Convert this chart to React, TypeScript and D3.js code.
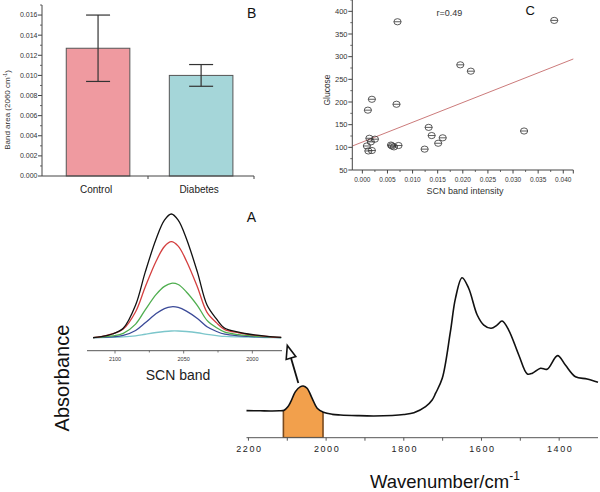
import React from 'react';
import * as d3 from 'd3';

// ---------- Panel B: bar chart ----------
const barCategories = ['Control', 'Diabetes'];
const barMeans = [0.0127, 0.01];
const barErrors = [0.0033, 0.00108];
const barColors = ['#ef9aa0', '#a5d6d9'];
const barYTicks = [0, 0.002, 0.004, 0.006, 0.008, 0.01, 0.012, 0.014, 0.016];
const barYMinor = [0.001, 0.003, 0.005, 0.007, 0.009, 0.011, 0.013, 0.015, 0.017];

// ---------- Panel C: scatter ----------
const scatterX = [0.007, 0.0382, 0.0195, 0.0216, 0.0019, 0.0011, 0.0068, 0.0132, 0.0138, 0.016, 0.0151, 0.0124, 0.0322, 0.0014, 0.0025, 0.0017, 0.0009, 0.0012, 0.0019, 0.0057, 0.0063, 0.0072, 0.0059];
const scatterY = [377, 380, 282, 268, 206, 182, 195, 144, 126, 121, 109, 96, 136, 120, 118, 112, 103, 92, 93, 105, 101, 104, 103];
const fitIntercept = 111.6;
const fitSlope = 4364;
const fitLabel = 'r=0.49';
const scatterXTicks = [0, 0.005, 0.01, 0.015, 0.02, 0.025, 0.03, 0.035, 0.04];
const scatterXMinor = [0.0025, 0.0075, 0.0125, 0.0175, 0.0225, 0.0275, 0.0325, 0.0375];
const scatterYTicks = [50, 100, 150, 200, 250, 300, 350, 400];
const scatterYMinor = [75, 125, 175, 225, 275, 325, 375, 425];

// ---------- Panel A inset: SCN band components ----------
const insetWavenumbers = [2116, 2110, 2102, 2094, 2085, 2078, 2070, 2064, 2059, 2054, 2048, 2040, 2033, 2026, 2020, 2010, 2003, 1995, 1985, 1979];
const insetBlack = [0, 0.008, 0.03, 0.076, 0.264, 0.53, 0.8, 0.95, 1.0, 0.95, 0.8, 0.53, 0.264, 0.15, 0.076, 0.045, 0.03, 0.018, 0.006, 0.002];
const insetRed = [0, 0.009, 0.03, 0.07, 0.21, 0.41, 0.62, 0.737, 0.776, 0.74, 0.62, 0.41, 0.205, 0.12, 0.065, 0.04, 0.027, 0.016, 0.005, 0.002];
const insetGreen = [0, 0.004, 0.014, 0.035, 0.11, 0.225, 0.35, 0.415, 0.44, 0.43, 0.37, 0.26, 0.14, 0.08, 0.045, 0.025, 0.017, 0.01, 0.004, 0.001];
const insetBlue = [0, 0.002, 0.007, 0.018, 0.058, 0.12, 0.195, 0.235, 0.25, 0.245, 0.215, 0.155, 0.088, 0.05, 0.028, 0.015, 0.01, 0.006, 0.002, 0.001];
const insetCyan = [0, 0.001, 0.003, 0.006, 0.015, 0.028, 0.042, 0.05, 0.054, 0.054, 0.05, 0.04, 0.027, 0.017, 0.01, 0.006, 0.004, 0.002, 0.001, 0];
const insetSeries = [insetCyan, insetBlue, insetGreen, insetRed, insetBlack];
const insetColors = ['#7cc6cb', '#3b4a98', '#4fae4f', '#d43f3f', '#111111'];
const insetTicks = [2100, 2050, 2000];
const insetMinorTicks = [2075, 2025];

// ---------- Panel A main spectrum ----------
const spectrumWavenumber = [2205, 2170, 2143, 2120, 2108, 2098, 2091, 2079, 2066, 2059, 2049, 2036, 2023, 2007, 1984, 1963, 1920, 1877, 1830, 1800, 1774, 1744, 1727, 1718, 1701, 1680, 1667, 1650, 1633, 1611, 1594, 1575, 1560, 1547, 1530, 1504, 1482, 1469, 1448, 1431, 1404, 1384, 1358, 1328, 1300];
const spectrumAbsorbance = [0.169, 0.168, 0.167, 0.168, 0.172, 0.195, 0.225, 0.288, 0.319, 0.323, 0.309, 0.246, 0.184, 0.159, 0.146, 0.142, 0.138, 0.136, 0.139, 0.145, 0.156, 0.194, 0.236, 0.278, 0.371, 0.663, 0.871, 1.0, 0.934, 0.767, 0.704, 0.684, 0.704, 0.729, 0.673, 0.517, 0.398, 0.403, 0.434, 0.428, 0.513, 0.454, 0.381, 0.367, 0.347];
const shadeRange = [2110, 2008];
const mainTicks = [2200, 2000, 1800, 1600, 1400];
const mainMinorTicks = [2100, 1900, 1700, 1500];

const FONT = 'Liberation Sans, Arial, sans-serif';
const AX = '#444';

export default function App() {
  // Panel B scales
  const bx = d3.scaleBand<string>().domain(barCategories).range([42, 254]).paddingInner(0.383).paddingOuter(0.22).align(0.535);
  const by = d3.scaleLinear().domain([0, 0.017]).range([176, 5]);
  const fmt3 = d3.format('.3f');

  // Panel C scales
  const cx = d3.scaleLinear().domain([-0.002, 0.042]).range([352.3, 573.3]);
  const cy = d3.scaleLinear().domain([50, 425]).range([170, 0]);

  // Inset scales
  const ix = d3.scaleLinear().domain([2120.4, 1978.4]).range([87, 282]);
  const iy = d3.scaleLinear().domain([0, 1]).range([337.7, 214]);
  const insetLine = d3.line<number>()
    .x((_, i) => ix(insetWavenumbers[i]))
    .y((d) => iy(d))
    .curve(d3.curveCatmullRom.alpha(0.5));

  // Main scales
  const mx = d3.scaleLinear().domain([2205, 1300]).range([246.5, 598]);
  const my = d3.scaleLinear().domain([0, 1]).range([437.7, 277.7]);
  const specIdx = spectrumWavenumber.map((_, i) => i);
  const specLine = d3.line<number>()
    .x((i) => mx(spectrumWavenumber[i]))
    .y((i) => my(spectrumAbsorbance[i]))
    .curve(d3.curveCatmullRom.alpha(0.5));
  const specArea = d3.area<number>()
    .x((i) => mx(spectrumWavenumber[i]))
    .y0(my(0))
    .y1((i) => my(spectrumAbsorbance[i]))
    .curve(d3.curveCatmullRom.alpha(0.5));

  const fitX0 = -0.002;
  const fitX1 = 0.042;

  return (
    <svg width={600} height={492} style={{ position: 'absolute', left: 0, top: 0, background: '#fff' }} fontFamily={FONT}>
      <rect x={0} y={0} width={600} height={492} fill="#fff" />

      {/* ================= Panel B ================= */}
      <g>
        {barCategories.map((c, i) => (
          <g key={c}>
            <rect x={bx(c)} y={by(barMeans[i])} width={bx.bandwidth()} height={by(0) - by(barMeans[i])} fill={barColors[i]} stroke="#555" strokeWidth={1} />
            <line x1={bx(c)! + bx.bandwidth() / 2} x2={bx(c)! + bx.bandwidth() / 2} y1={by(barMeans[i] - barErrors[i])} y2={by(barMeans[i] + barErrors[i])} stroke="#333" strokeWidth={1.2} />
            <line x1={bx(c)! + bx.bandwidth() / 2 - 12} x2={bx(c)! + bx.bandwidth() / 2 + 12} y1={by(barMeans[i] + barErrors[i])} y2={by(barMeans[i] + barErrors[i])} stroke="#333" strokeWidth={1.2} />
            <line x1={bx(c)! + bx.bandwidth() / 2 - 12} x2={bx(c)! + bx.bandwidth() / 2 + 12} y1={by(barMeans[i] - barErrors[i])} y2={by(barMeans[i] - barErrors[i])} stroke="#333" strokeWidth={1.2} />
            <text x={bx(c)! + bx.bandwidth() / 2 - 2} y={193} fontSize={10} textAnchor="middle" fill="#222">{c}</text>
          </g>
        ))}
        <line x1={42} x2={42} y1={5} y2={176} stroke={AX} strokeWidth={1} />
        <line x1={42} x2={254} y1={176} y2={176} stroke={AX} strokeWidth={1} />
        {[148, 254].map((x) => (
          <line key={x} x1={x} x2={x} y1={176} y2={179} stroke={AX} strokeWidth={1} />
        ))}
        {barYTicks.map((t) => (
          <g key={t}>
            <line x1={38} x2={42} y1={by(t)} y2={by(t)} stroke={AX} strokeWidth={1} />
            <text x={37.5} y={by(t) + 2.4} fontSize={7} textAnchor="end" fill="#333">{fmt3(t)}</text>
          </g>
        ))}
        {barYMinor.map((t) => (
          <line key={t} x1={40} x2={42} y1={by(t)} y2={by(t)} stroke={AX} strokeWidth={0.8} />
        ))}
        <text transform="translate(10,110) rotate(-90)" fontSize={8} textAnchor="middle" fill="#333">
          Band area (2060 cm<tspan fontSize={5} dy={-3}>-1</tspan><tspan dy={3}>)</tspan>
        </text>
        <text x={247} y={17.5} fontSize={14} fill="#111">B</text>
      </g>

      {/* ================= Panel C ================= */}
      <g>
        <line x1={cx(fitX0)} y1={cy(fitIntercept + fitSlope * fitX0)} x2={cx(fitX1)} y2={cy(fitIntercept + fitSlope * fitX1)} stroke="#cc7b7b" strokeWidth={1} />
        {scatterX.map((x, i) => (
          <g key={i}>
            <ellipse cx={cx(x)} cy={cy(scatterY[i])} rx={3.6} ry={3.1} fill="none" stroke="#333" strokeWidth={0.8} />
            <line x1={cx(x) - 3.6} x2={cx(x) + 3.6} y1={cy(scatterY[i])} y2={cy(scatterY[i])} stroke="#333" strokeWidth={0.8} />
          </g>
        ))}
        <line x1={352.3} x2={352.3} y1={0} y2={170} stroke={AX} strokeWidth={1} />
        <line x1={352.3} x2={573.3} y1={170} y2={170} stroke={AX} strokeWidth={1} />
        {scatterYTicks.map((t) => (
          <g key={t}>
            <line x1={348.3} x2={352.3} y1={cy(t)} y2={cy(t)} stroke={AX} strokeWidth={1} />
            <text x={347.5} y={cy(t) + 2.7} fontSize={7.5} textAnchor="end" fill="#333">{t}</text>
          </g>
        ))}
        {scatterYMinor.map((t) => (
          <line key={t} x1={350.3} x2={352.3} y1={cy(t)} y2={cy(t)} stroke={AX} strokeWidth={0.8} />
        ))}
        {scatterXTicks.map((t) => (
          <g key={t}>
            <line x1={cx(t)} x2={cx(t)} y1={170} y2={173.5} stroke={AX} strokeWidth={1} />
            <text x={cx(t)} y={181.5} fontSize={6.5} textAnchor="middle" fill="#333">{fmt3(t)}</text>
          </g>
        ))}
        {scatterXMinor.map((t) => (
          <line key={t} x1={cx(t)} x2={cx(t)} y1={170} y2={172} stroke={AX} strokeWidth={0.8} />
        ))}
        <line x1={573.3} x2={573.3} y1={170} y2={173.5} stroke={AX} strokeWidth={1} />
        <text x={465} y={194} fontSize={9} textAnchor="middle" fill="#333">SCN band intensity</text>
        <text transform="translate(329.5,90) rotate(-90)" fontSize={8.5} textAnchor="middle" fill="#333">Glucose</text>
        <text x={449.5} y={15.5} fontSize={9} textAnchor="middle" fill="#333">{fitLabel}</text>
        <text x={525.5} y={14.5} fontSize={13} fill="#111">C</text>
      </g>

      {/* ================= Panel A inset ================= */}
      <g>
        {insetSeries.map((s, k) => (
          <path key={k} d={insetLine(s)!} fill="none" stroke={insetColors[k]} strokeWidth={1.3} />
        ))}
        <line x1={87} x2={282} y1={350.7} y2={350.7} stroke="#555" strokeWidth={1} />
        {insetTicks.map((t) => (
          <g key={t}>
            <line x1={ix(t)} x2={ix(t)} y1={350.7} y2={353.5} stroke="#555" strokeWidth={0.8} />
            <text x={ix(t)} y={361.3} fontSize={5.5} textAnchor="middle" fill="#333">{t}</text>
          </g>
        ))}
        {insetMinorTicks.map((t) => (
          <line key={t} x1={ix(t)} x2={ix(t)} y1={350.7} y2={352.5} stroke="#555" strokeWidth={0.8} />
        ))}
        <text x={178} y={379.5} fontSize={14} textAnchor="middle" fill="#222">SCN band</text>
        <text x={251.5} y={221.5} fontSize={14} textAnchor="middle" fill="#111">A</text>
      </g>

      {/* ================= Panel A main spectrum ================= */}
      <g>
        <defs>
          <clipPath id="underCurve">
            <path d={specArea(specIdx)!} />
          </clipPath>
        </defs>
        <rect x={mx(shadeRange[0])} y={250} width={mx(shadeRange[1]) - mx(shadeRange[0])} height={my(0) - 250} fill="#f2a04c" stroke="#7a4a1e" strokeWidth={1.6} clipPath="url(#underCurve)" />
        <path d={specLine(specIdx)!} fill="none" stroke="#111" strokeWidth={1.6} />
        <line x1={246.5} x2={598} y1={my(0)} y2={my(0)} stroke="#555" strokeWidth={1} />
        {mainTicks.map((t) => (
          <g key={t}>
            <line x1={mx(t)} x2={mx(t)} y1={my(0)} y2={my(0) + 3} stroke="#555" strokeWidth={1} />
            <text x={mx(t) + 1} y={452} fontSize={9} letterSpacing={1.6} textAnchor="middle" fill="#222">{t}</text>
          </g>
        ))}
        {mainMinorTicks.map((t) => (
          <line key={t} x1={mx(t)} x2={mx(t)} y1={my(0)} y2={my(0) + 3} stroke="#555" strokeWidth={1} />
        ))}
        <text x={370} y={488} fontSize={18.5} fill="#111">
          Wavenumber/cm<tspan fontSize={12} dy={-8}>-1</tspan>
        </text>
        <text transform="translate(69,378) rotate(-90)" fontSize={20} textAnchor="middle" fill="#111">Absorbance</text>
        {/* arrow from SCN band to inset */}
        <line x1={298.3} y1={383} x2={291} y2={358} stroke="#111" strokeWidth={1.8} />
        <polygon points="287.3,345.5 286.2,359.4 295.8,356.6" fill="#fff" stroke="#111" strokeWidth={1.6} strokeLinejoin="miter" />
      </g>
    </svg>
  );
}
